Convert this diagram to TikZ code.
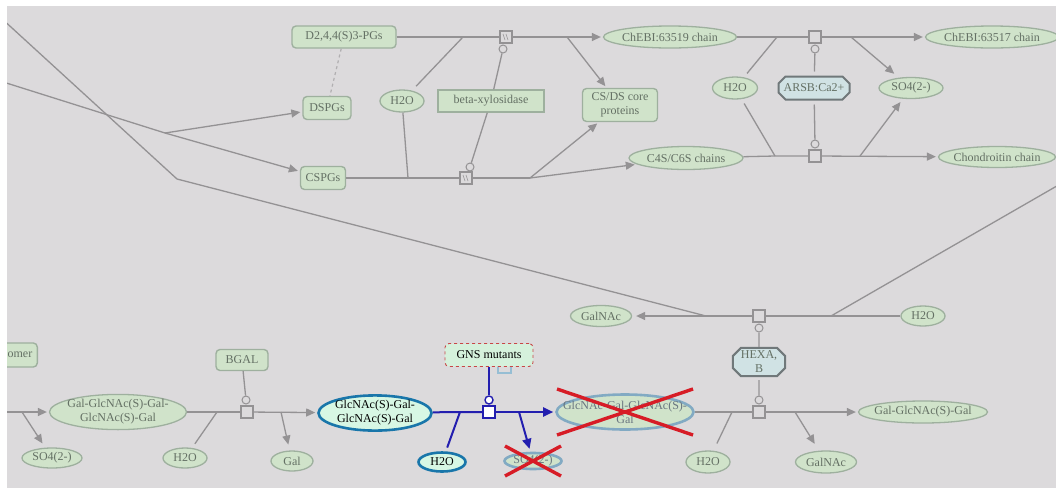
\documentclass[tikz,border=0pt]{standalone}
\usepackage{fontspec}
\setmainfont{Liberation Serif}
\usetikzlibrary{shapes.geometric,shapes.misc,arrows.meta,calc}

\definecolor{bg}{RGB}{220,218,220}
\definecolor{edge}{RGB}{148,146,148}
\definecolor{gfill}{RGB}{208,227,202}
\definecolor{gline}{RGB}{158,176,158}
\definecolor{gtext}{RGB}{100,112,100}
\definecolor{cfill}{RGB}{208,226,228}
\definecolor{cline}{RGB}{112,120,122}
\definecolor{hblue}{RGB}{35,30,175}
\definecolor{hring}{RGB}{25,118,170}
\definecolor{hfill}{RGB}{215,247,228}
\definecolor{xred}{RGB}{215,28,38}
\definecolor{fring}{RGB}{130,170,195}
\definecolor{ftext}{RGB}{105,118,128}
\definecolor{dashred}{RGB}{200,70,70}
\definecolor{nubblue}{RGB}{150,190,212}

% zero-width text so that a species keeps its own drawn size
\newcommand{\zw}[1]{\makebox[0pt]{#1}}

\tikzset{
  every node/.style={font=\fontsize{12}{14}\selectfont},
  spec/.style={ellipse, draw=gline, fill=gfill, line width=1.3pt, text=gtext, inner sep=0pt},
  box/.style={rectangle, rounded corners=4pt, draw=gline, fill=gfill, line width=1.4pt, text=gtext, inner sep=0pt},
  cplx/.style={chamfered rectangle, chamfered rectangle xsep=4pt, draw=cline, fill=cfill, line width=2pt, text=gtext, inner sep=0pt},
  hspec/.style={ellipse, draw=hring, fill=hfill, line width=2.6pt, text=black, inner sep=0pt},
  xspec/.style={ellipse, draw=fring, fill=gfill, line width=2.6pt, text=ftext, inner sep=0pt},
  gnsbox/.style={rectangle, rounded corners=4pt, draw=dashred, dashed, fill=hfill!70!gfill, line width=0.9pt, text=black, inner sep=0pt},
  proc/.style={rectangle, draw=edge, fill=bg, minimum size=12pt, inner sep=0pt, line width=1.1pt},
  hproc/.style={proc, path picture={
      \draw[edge, line width=0.6pt]
        ([shift={(-3,-3)}]path picture bounding box.center) -- ++(2,6)
        ([shift={(0,-3)}]path picture bounding box.center) -- ++(2,6);}},
  bproc/.style={rectangle, draw=hblue, fill=white, minimum size=12pt, inner sep=0pt, line width=1.6pt},
  mod/.style={circle, draw=edge, fill=bg, minimum size=8pt, inner sep=0pt, line width=1pt},
  bmod/.style={circle, draw=hblue, fill=white, minimum size=8pt, inner sep=0pt, line width=1.4pt},
  flow/.style={draw=edge, line width=1.3pt},
  arr/.style={flow, -{Triangle[length=9pt,width=8pt]}, shorten >=2pt},
  bflow/.style={draw=hblue, line width=2pt},
  barr/.style={bflow, -{Triangle[length=10pt,width=9pt]}, shorten >=2pt},
  faint/.style={draw=edge!60!bg, line width=1.2pt, dashed},
  xline/.style={draw=xred, line width=3.4pt},
}

\begin{document}
\begin{tikzpicture}[x=1pt,y=-1pt]
\fill[white] (0,0) rectangle (1056,488);
\fill[bg] (7,6) rectangle (1056,488);
\path[use as bounding box] (0,0) rectangle (1056,488);
\clip (7,6) rectangle (1056,488);

% ---------- upper band: proteoglycan degradation ----------
\node[box, minimum width=104, minimum height=22] (d244) at (344,37) {D2,4,4(S)3-PGs};
\node[box, minimum width=48, minimum height=23] (dspgs) at (327,108) {DSPGs};
\node[box, minimum width=45, minimum height=23] (cspgs) at (323,178) {CSPGs};
\node[spec, minimum width=44, minimum height=22] (wA) at (402,101) {\zw{H2O}};
\node[box, sharp corners, minimum width=106, minimum height=22] (bxyl) at (491,101) {beta-xylosidase};
\node[box, minimum width=75, minimum height=33, align=center] (csds) at (620,105) {CS/DS core\\proteins};
\node[spec, minimum width=133, minimum height=22] (c519) at (670,37) {\zw{ChEBI:63519 chain}};
\node[spec, minimum width=114, minimum height=23] (c46) at (686,158) {\zw{C4S/C6S chains}};
\node[hproc] (p1) at (506,37) {};
\node[hproc] (p2) at (466,178) {};
\node[mod] (m1) at (503,49) {};
\node[mod] (m2) at (470,167) {};
\coordinate (p1in) at (463,37);
\coordinate (p1out) at (567,37);
\coordinate (p2in) at (408,178);
\coordinate (p2out) at (530,178);

\draw[faint] (d244) -- (dspgs);
\draw[flow] (d244) -- (p1in) -- (p1);
\draw[arr] (p1) -- (c519);
\draw[flow, shorten <=6pt] (wA) -- (p1in);
\draw[flow] (wA) -- (p2in);
\draw[arr] (p1out) -- (csds);
\draw[flow] (cspgs) -- (p2in) -- (p2) -- (p2out);
\draw[arr] (p2out) -- (csds);
\draw[arr] (p2out) -- (c46);
\draw[flow] (bxyl) -- (m1);
\draw[flow] (bxyl) -- (m2);

% ---------- upper right: sulfatase steps ----------
\node[spec, minimum width=45, minimum height=22] (wB) at (735,88) {\zw{H2O}};
\node[cplx, minimum width=71, minimum height=23] (arsb) at (814,88) {ARSB:Ca2+};
\node[spec, minimum width=64, minimum height=21] (so4A) at (911,88) {\zw{SO4(2-)}};
\node[spec, minimum width=133, minimum height=22] (c517) at (992,37) {\zw{ChEBI:63517 chain}};
\node[spec, minimum width=117, minimum height=21] (chon) at (997,157) {\zw{Chondroitin chain}};
\node[proc] (p3) at (815,37) {};
\node[proc] (p4) at (815,156) {};
\node[mod] (m3) at (815,49) {};
\node[mod] (m4) at (815,144) {};
\coordinate (p3in) at (777,37);
\coordinate (p3out) at (851,37);
\coordinate (p4in) at (775,156);
\coordinate (p4out) at (860,156);

\draw[flow] (c519) -- (p3in) -- (p3);
\draw[arr] (p3) -- (c517);
\draw[flow, shorten <=5pt] (wB) -- (p3in);
\draw[flow, shorten <=5pt] (wB) -- (p4in);
\draw[arr, shorten >=6pt] (p3out) -- (so4A);
\draw[arr, shorten >=4pt] (p4out) -- (so4A);
\draw[flow] (c46) -- (p4in) -- (p4);
\draw[arr] (p4) -- (chon);
\draw[flow, shorten <=4pt] (arsb) -- (m3);
\draw[flow, shorten <=4pt] (arsb) -- (m4);

% ---------- long crossing links ----------
\coordinate (offA) at (0,17);
\coordinate (bendA) at (177,179);
\coordinate (offB) at (0,81);
\coordinate (fork) at (165,133);
\coordinate (offR) at (1062,183);
\draw[flow] (offB) -- (fork);
\draw[arr] (fork) -- (dspgs);
\draw[arr] (fork) -- (cspgs);

% ---------- HEXA,B steps ----------
\node[spec, minimum width=61, minimum height=21] (galnacA) at (601,316) {\zw{GalNAc}};
\node[spec, minimum width=44, minimum height=20] (wC) at (923,316) {\zw{H2O}};
\node[proc] (p5) at (759,316) {};
\node[mod] (m5) at (759,328) {};
\node[cplx, chamfered rectangle xsep=5pt, minimum height=23, inner xsep=3pt, inner ysep=0pt,
      align=center, font=\fontsize{12}{13}\selectfont, text depth=0pt] (hexa) at (759,362)
      {\raisebox{4pt}{HEXA,}\\[-3pt]B};
\node[mod] (m6) at (759,400) {};
\node[proc] (p6) at (759,412) {};
\coordinate (p5a) at (706,316);
\coordinate (p5b) at (831,316);

\draw[flow] (offA) -- (bendA) -- (p5a);
\draw[flow] (offR) -- (p5b);
\draw[flow] (wC) -- (p5b) -- (p5);
\draw[arr, shorten >=4pt] (p5) -- (galnacA);
\draw[flow] (hexa) -- (m5);
\draw[flow, shorten <=3pt] (hexa) -- (m6);

\node[xspec, minimum width=137, minimum height=35, align=center] (gxg) at (625,412) {\zw{GlcNAc-Gal-GlcNAc(S)-}\\\zw{Gal}};
\node[spec, minimum width=129, minimum height=22] (ggg) at (923,412) {\zw{Gal-GlcNAc(S)-Gal}};
\node[spec, minimum width=44, minimum height=22] (wD) at (708,462) {\zw{H2O}};
\node[spec, minimum width=61, minimum height=22] (galnacB) at (826,462) {\zw{GalNAc}};
\coordinate (p6in) at (732,412);
\coordinate (p6out) at (795,412);

\draw[flow] (gxg) -- (p6in) -- (p6);
\draw[arr] (p6) -- (ggg);
\draw[flow, shorten <=8pt] (wD) -- (p6in);
\draw[arr, shorten >=8pt] (p6out) -- (galnacB);

% ---------- GNS step (highlighted) ----------
\draw[nubblue, line width=1.4pt] (498,364) -- (498,373) -- (511,373) -- (511,364);
\node[gnsbox, minimum width=88, minimum height=23] (gns) at (489,355) {GNS mutants};
\node[hspec, minimum width=113, minimum height=35, align=center] (gsg) at (375,413) {\zw{GlcNAc(S)-Gal-}\\\zw{GlcNAc(S)-Gal}};
\node[hspec, minimum width=47, minimum height=19] (wE) at (442,462) {\zw{H2O}};
\node[xspec, minimum width=57, minimum height=16] (so4X) at (533,461) {\zw{SO4(2-)}};
\node[bproc] (p7) at (489,412) {};
\node[bmod] (m7) at (489,400) {};
\coordinate (p7in) at (460,412);
\coordinate (p7out) at (519,412);

\draw[bflow] (gsg) -- (p7in) -- (p7);
\draw[barr] (p7) -- (gxg);
\draw[bflow, shorten <=4pt] (wE) -- (p7in);
\draw[barr, shorten >=3pt] (p7out) -- (so4X);
\draw[bflow] (gns) -- (m7);

% ---------- BGAL step and sulfate release ----------
\node[spec, minimum width=137, minimum height=35, align=center] (h5) at (118,412) {\zw{Gal-GlcNAc(S)-Gal-}\\\zw{GlcNAc(S)-Gal}};
\node[spec, minimum width=44, minimum height=20] (wF) at (185,458) {\zw{H2O}};
\node[spec, minimum width=42, minimum height=20] (gal) at (292,461) {\zw{Gal}};
\node[box, minimum width=52, minimum height=21] (bgal) at (242,360) {BGAL};
\node[spec, minimum width=60, minimum height=20] (so4G) at (52,458) {\zw{SO4(2-)}};
\node[box, anchor=east, minimum height=24, inner xsep=5pt] (omer) at (38,355) {omer};
\node[proc] (p8) at (247,412) {};
\node[mod] (m8) at (246,400) {};
\coordinate (p8in) at (217,412);
\coordinate (p8out) at (281,412);
\coordinate (offC) at (0,412);
\coordinate (p9out) at (22,412);

\draw[flow] (h5) -- (p8in) -- (p8);
\draw[arr] (p8) -- (gsg);
\draw[flow, shorten <=5pt] (wF) -- (p8in);
\draw[arr, shorten >=6pt] (p8out) -- (gal);
\draw[flow] (bgal) -- (m8);
\draw[flow] (offC) -- (p9out);
\draw[arr] (p9out) -- (h5);
\draw[arr, shorten >=5pt] (p9out) -- (so4G);

% ---------- crossed-out species ----------
\draw[xline] ($(gxg.center)+(-68,-23)$) -- ($(gxg.center)+(68,23)$);
\draw[xline] ($(gxg.center)+(-68,23)$) -- ($(gxg.center)+(68,-23)$);
\draw[xline] ($(so4X.center)+(-28,-15)$) -- ($(so4X.center)+(28,15)$);
\draw[xline] ($(so4X.center)+(-28,15)$) -- ($(so4X.center)+(28,-15)$);
\end{tikzpicture}
\end{document}
